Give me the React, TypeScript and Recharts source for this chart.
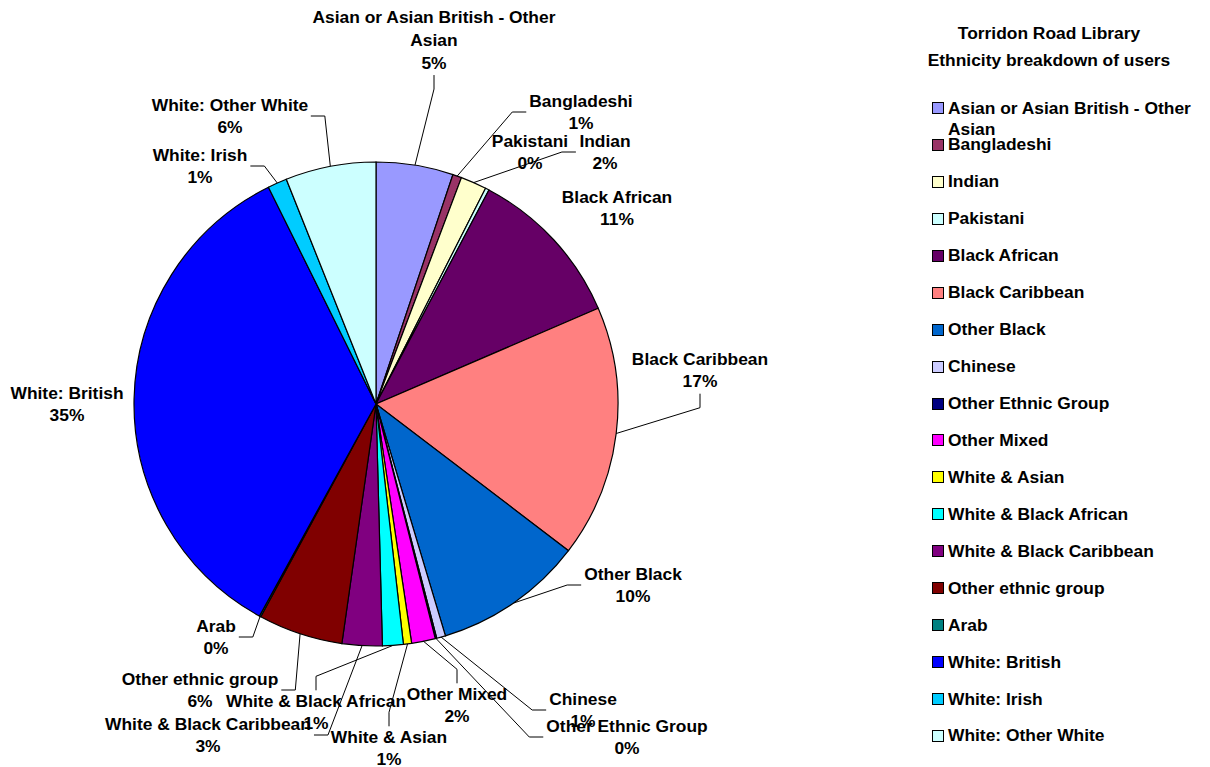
import React from "react";
import { Cell, Legend, Pie, PieChart } from "recharts";

const categories = [
  "Asian or Asian British - Other Asian",
  "Bangladeshi",
  "Indian",
  "Pakistani",
  "Black African",
  "Black Caribbean",
  "Other Black",
  "Chinese",
  "Other Ethnic Group",
  "Other Mixed",
  "White & Asian",
  "White & Black African",
  "White & Black Caribbean",
  "Other ethnic group",
  "Arab",
  "White: British",
  "White: Irish",
  "White: Other White",
];

// share of users, in percent
const shares = [
  5.2, 0.6, 1.75, 0.25, 10.9, 17.0, 10.1, 0.6, 0.1, 1.6, 0.55, 1.4, 2.7, 5.7,
  0.1, 35.0, 1.3, 6.1,
];

const colors = [
  "#9999FF", "#993366", "#FFFFCC", "#CCFFFF", "#660066", "#FF8080",
  "#0066CC", "#CCCCFF", "#000080", "#FF00FF", "#FFFF00", "#00FFFF",
  "#800080", "#800000", "#008080", "#0000FF", "#00CCFF", "#CCFFFF",
];

const titleLines = ["Torridon Road Library", "Ethnicity breakdown of users"];

const data = categories.map((name, i) => ({ name, value: shares[i] }));

const CX = 376;
const CY = 404;
const R = 242;
const FONT = "'Liberation Sans', Arial, sans-serif";
const FS = 17.4;
const LH = 22.7;

// label block centre (offset from pie centre) and the side its leader attaches to
type Side = "l" | "r" | "t" | "b" | "n";
const labelPlacement: Record<string, [number, number, Side]> = {
  "Asian or Asian British - Other Asian": [58, -364, "b"],
  Bangladeshi: [205, -292, "l"],
  Indian: [229, -252, "l"],
  Pakistani: [154, -252, "n"],
  "Black African": [241, -196, "n"],
  "Black Caribbean": [324, -34, "b"],
  "Other Black": [257, 181, "l"],
  Chinese: [207, 306, "l"],
  "Other Ethnic Group": [251, 333, "l"],
  "Other Mixed": [81, 301, "t"],
  "White & Asian": [13, 344, "t"],
  "White & Black African": [-60, 308, "t"],
  "White & Black Caribbean": [-168, 331, "r"],
  "Other ethnic group": [-176, 286, "r"],
  Arab: [-160, 233, "r"],
  "White: British": [-309, 0, "n"],
  "White: Irish": [-176, -238, "r"],
  "White: Other White": [-146, -288, "r"],
};

function charW(c: string) {
  if ("il.,:;'|! ".includes(c)) return 0.278;
  if ("tfI-".includes(c)) return 0.333;
  if ("r".includes(c)) return 0.389;
  if (c === "%") return 0.889;
  if (c === "&") return 0.722;
  if (/[0-9]/.test(c)) return 0.556;
  if (c === "W") return 0.944;
  if ("MOG".includes(c)) return 0.778;
  if ("CBADRN".includes(c)) return 0.722;
  if (/[A-Z]/.test(c)) return 0.667;
  if (c === "m") return 0.889;
  if (c === "w") return 0.778;
  if ("acesky".includes(c)) return 0.556;
  return 0.611;
}
const textW = (s: string) => s.split("").reduce((a, c) => a + charW(c), 0) * FS;

function wrap(name: string, max = 30) {
  const out: string[] = [];
  let cur = "";
  name.split(" ").forEach((w) => {
    const next = cur ? cur + " " + w : w;
    if (next.length > max && cur) {
      out.push(cur);
      cur = w;
    } else cur = next;
  });
  out.push(cur);
  return out;
}

const total = shares.reduce((a, b) => a + b, 0);

function renderLabel(props: any) {
  const { cx, cy, midAngle, outerRadius, name, value } = props;
  const place = labelPlacement[name];
  if (!place) return null;
  const [dx, dy, side] = place;
  const lx = cx + dx;
  const ly = cy + dy;
  const lines = [...wrap(name), `${Math.round((value / total) * 100)}%`];
  const w = Math.max(...lines.map(textW));
  const h = lines.length * LH;
  const rad = (-midAngle * Math.PI) / 180;
  const ax = cx + outerRadius * Math.cos(rad);
  const ay = cy + outerRadius * Math.sin(rad);
  let pts = "";
  const e = 14;
  if (side === "l") {
    const x = lx - w / 2 - 3;
    pts = `${ax},${ay} ${x - e},${ly} ${x},${ly}`;
  } else if (side === "r") {
    const x = lx + w / 2 + 3;
    pts = `${ax},${ay} ${x + e},${ly} ${x},${ly}`;
  } else if (side === "t") {
    const y = ly - h / 2 + 1;
    pts = `${ax},${ay} ${lx},${y - e} ${lx},${y}`;
  } else if (side === "b") {
    const y = ly + h / 2 + 1;
    pts = `${ax},${ay} ${lx},${y + e} ${lx},${y}`;
  }
  return (
    <g key={`lbl-${name}`}>
      {pts && <polyline points={pts} fill="none" stroke="#000" strokeWidth={1} />}
      <text
        x={lx}
        textAnchor="middle"
        fontFamily={FONT}
        fontWeight="bold"
        fontSize={FS}
        fill="#000"
      >
        {lines.map((t, i) => (
          <tspan key={i} x={lx} y={ly - ((lines.length - 1) * LH) / 2 + i * LH + 6}>
            {t}
          </tspan>
        ))}
      </text>
    </g>
  );
}

function LegendBox() {
  return (
    <div style={{ position: "absolute", left: 932, top: 97.5, width: 278 }}>
      {categories.map((name, i) => (
        <div
          key={name}
          style={{ display: "flex", alignItems: "flex-start", height: 36.94 }}
        >
          <div
            style={{
              width: 10,
              height: 10,
              marginTop: 4.5,
              marginRight: 4,
              background: colors[i],
              border: "1px solid #000",
              flex: "none",
            }}
          />
          <div
            style={{
              fontFamily: FONT,
              fontWeight: "bold",
              fontSize: FS,
              lineHeight: "21px",
              color: "#000",
              width: 258,
              whiteSpace: "normal",
            }}
          >
            {name}
          </div>
        </div>
      ))}
    </div>
  );
}

export default function App() {
  return (
    <div
      style={{
        position: "absolute",
        left: 0,
        top: 0,
        width: 1210,
        height: 767,
        background: "#fff",
        overflow: "hidden",
      }}
    >
      <PieChart width={1210} height={767} margin={{ top: 0, right: 0, bottom: 0, left: 0 }}>
        <Pie
          data={data}
          dataKey="value"
          nameKey="name"
          cx={CX}
          cy={CY}
          outerRadius={R}
          startAngle={90}
          endAngle={-270}
          stroke="#000"
          strokeWidth={1.2}
          label={renderLabel}
          labelLine={false}
          isAnimationActive={false}
        >
          {data.map((d, i) => (
            <Cell key={d.name} fill={colors[i]} />
          ))}
        </Pie>
        <Legend content={() => null} />
      </PieChart>
      <div
        style={{
          position: "absolute",
          left: 889,
          top: 20,
          width: 320,
          textAlign: "center",
          fontFamily: FONT,
          fontWeight: "bold",
          fontSize: FS,
          lineHeight: "27px",
          color: "#000",
        }}
      >
        {titleLines.map((t) => (
          <div key={t}>{t}</div>
        ))}
      </div>
      <LegendBox />
    </div>
  );
}
